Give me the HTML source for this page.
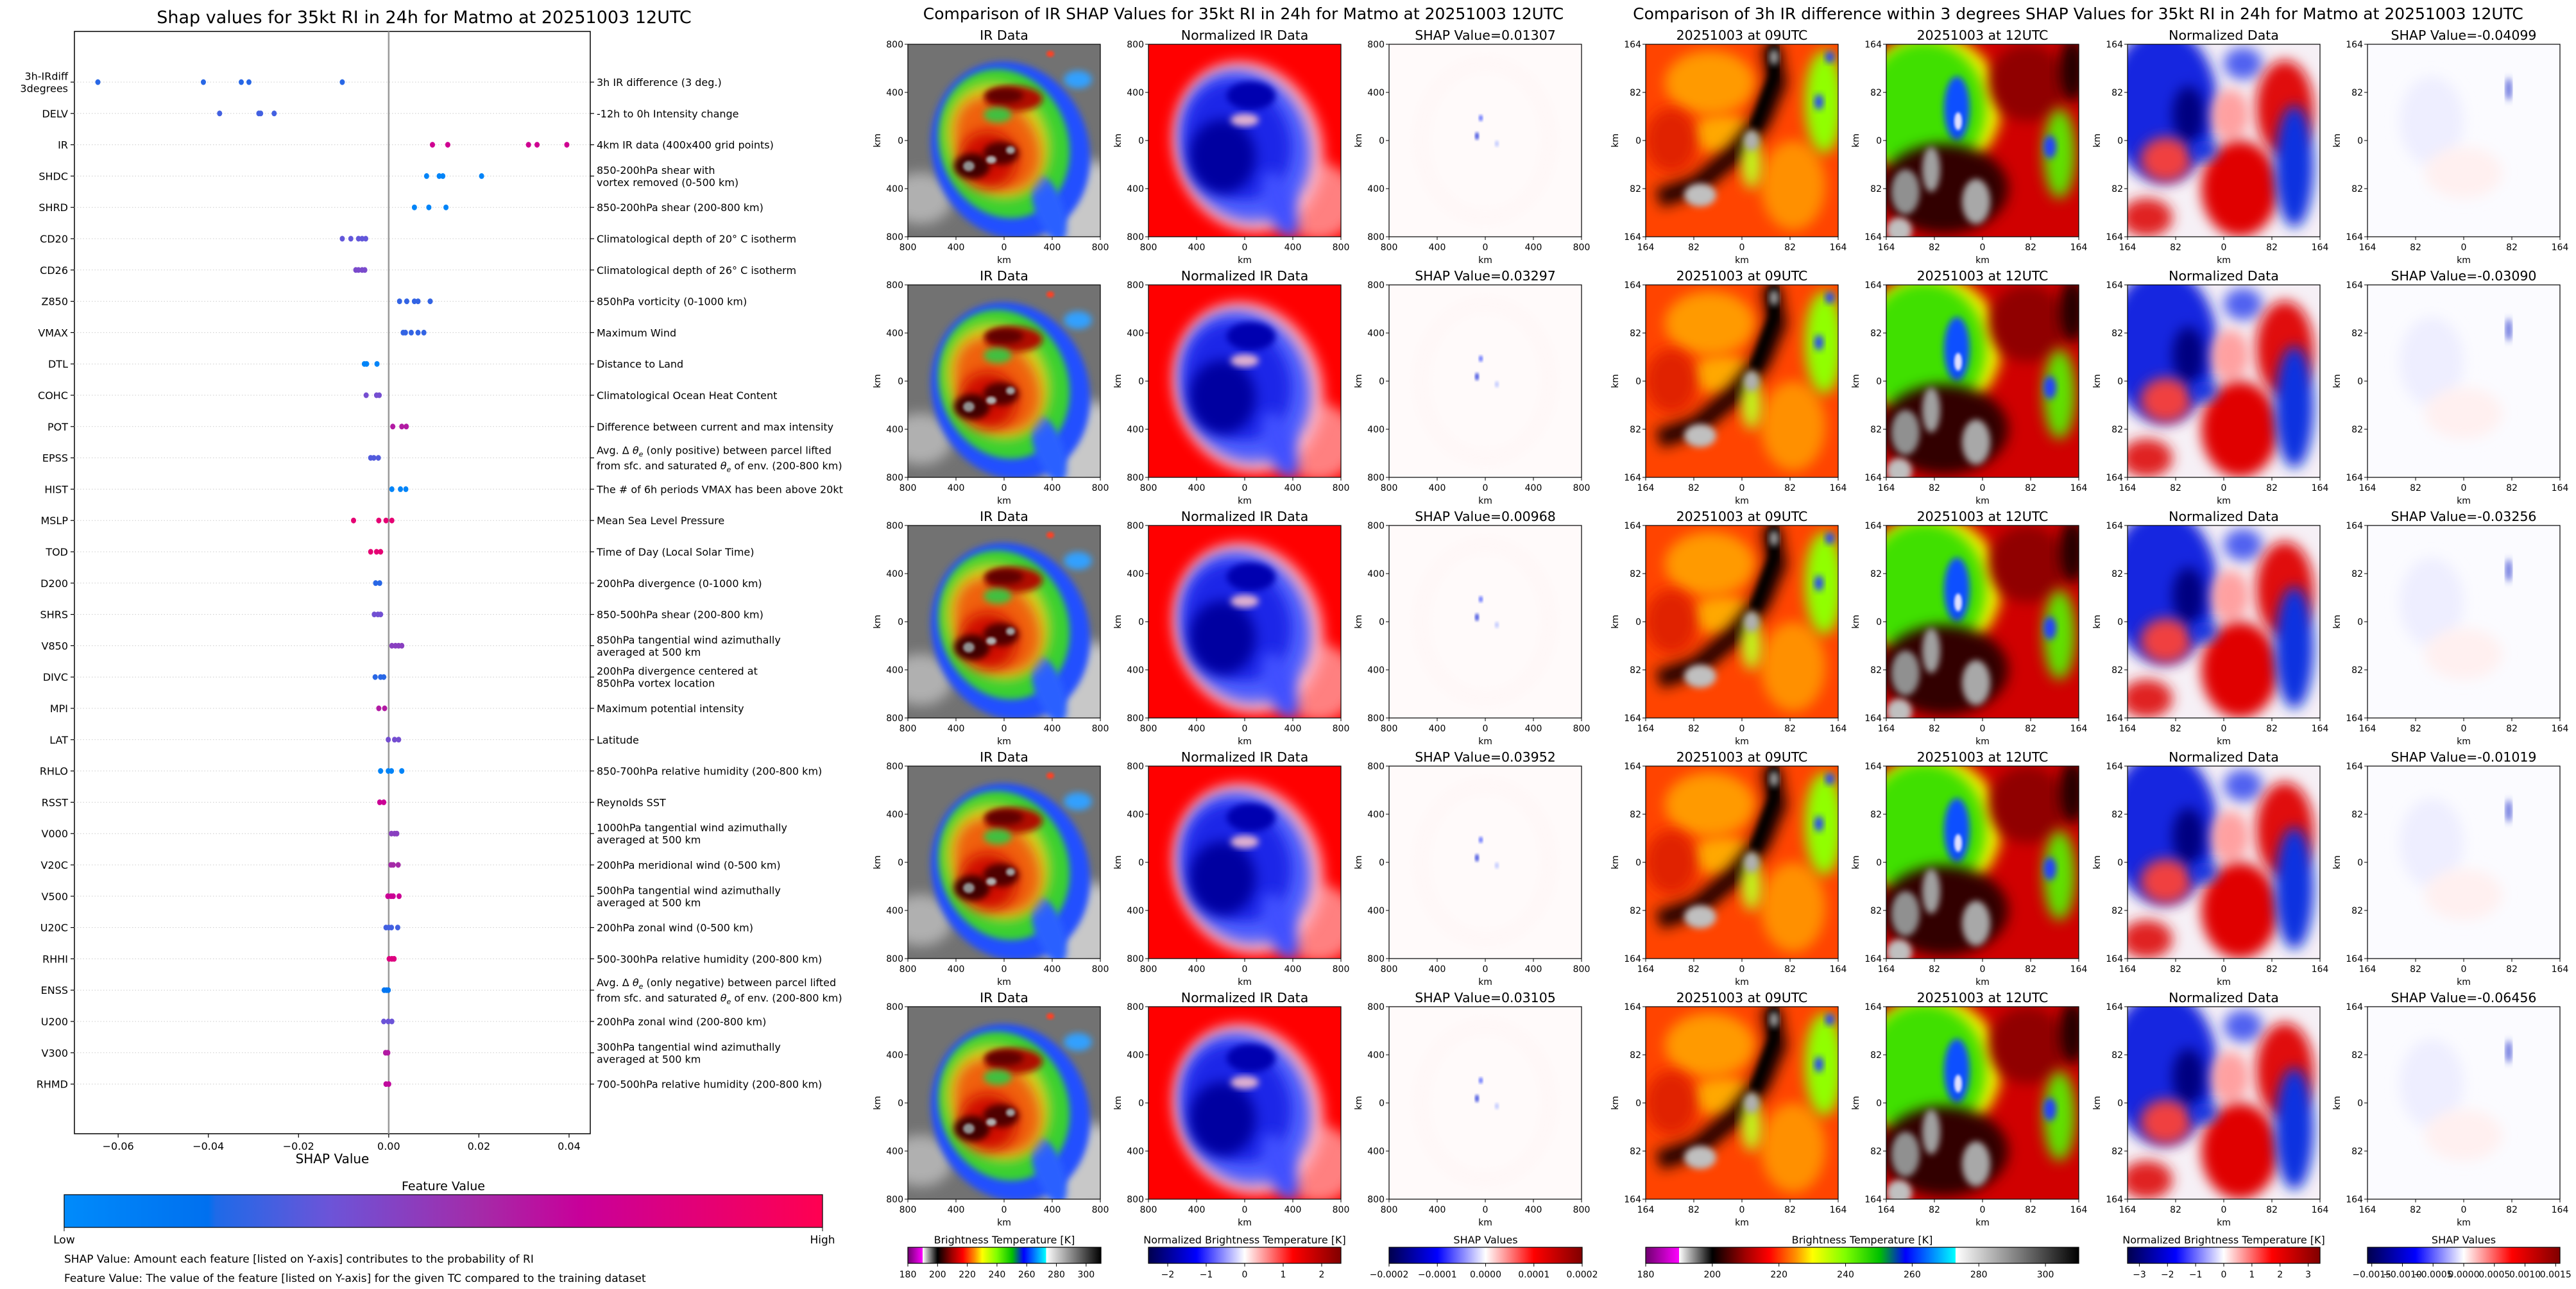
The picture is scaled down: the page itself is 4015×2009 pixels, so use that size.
<!DOCTYPE html>
<html><head><meta charset="utf-8">
<style>
html,body{margin:0;padding:0;background:#fff;}
svg{display:block;font-family:"DejaVu Sans","Liberation Sans",sans-serif;}
</style></head>
<body>
<svg id="fig" xmlns="http://www.w3.org/2000/svg" width="4015" height="2009" viewBox="0 0 4015 2009">
<defs>
<filter id="b2" x="-20%" y="-20%" width="140%" height="140%"><feGaussianBlur stdDeviation="2"/></filter>
<filter id="b5" x="-30%" y="-30%" width="160%" height="160%"><feGaussianBlur stdDeviation="5"/></filter>
<filter id="b10" x="-40%" y="-40%" width="180%" height="180%"><feGaussianBlur stdDeviation="10"/></filter>
<linearGradient id="gShap" x1="0" x2="1" y1="0" y2="0">
<stop offset="0" stop-color="#008bfb"/><stop offset="0.19" stop-color="#0070ef"/><stop offset="0.2" stop-color="#1e6ae8"/><stop offset="0.35" stop-color="#6c54d8"/><stop offset="0.55" stop-color="#a52aa8"/><stop offset="0.68" stop-color="#c8009a"/><stop offset="1" stop-color="#ff0051"/>
</linearGradient>
<linearGradient id="gIR" x1="0" x2="1" y1="0" y2="0">
<stop offset="0" stop-color="#700070"/><stop offset="0.077" stop-color="#ff00ff"/><stop offset="0.077" stop-color="#ffffff"/><stop offset="0.154" stop-color="#000000"/><stop offset="0.23" stop-color="#a00000"/><stop offset="0.285" stop-color="#ff0000"/><stop offset="0.346" stop-color="#ff9000"/><stop offset="0.385" stop-color="#ffff00"/><stop offset="0.46" stop-color="#80ff00"/><stop offset="0.54" stop-color="#00c000"/><stop offset="0.6" stop-color="#0000ff"/><stop offset="0.715" stop-color="#00ffff"/><stop offset="0.716" stop-color="#ffffff"/><stop offset="1" stop-color="#000000"/>
</linearGradient>
<linearGradient id="gSeis" x1="0" x2="1" y1="0" y2="0">
<stop offset="0" stop-color="#00004d"/><stop offset="0.25" stop-color="#0000ff"/><stop offset="0.5" stop-color="#ffffff"/><stop offset="0.75" stop-color="#ff0000"/><stop offset="1" stop-color="#800000"/>
</linearGradient>
<clipPath id="cp"><rect x="0" y="0" width="300" height="300"/></clipPath>

<symbol id="imgIR" viewBox="0 0 300 300"><g clip-path="url(#cp)">
<rect width="300" height="300" fill="#727272"/>
<ellipse cx="270" cy="250" rx="80" ry="70" fill="#c8c8c8" filter="url(#b10)"/>
<ellipse cx="20" cy="240" rx="50" ry="40" fill="#b0b0b0" filter="url(#b10)"/>
<ellipse cx="160" cy="165" rx="122" ry="140" transform="rotate(-20 160 165)" fill="#2050ff" filter="url(#b5)"/>
<ellipse cx="150" cy="155" rx="100" ry="118" transform="rotate(-20 150 155)" fill="#38d030" filter="url(#b5)"/>
<ellipse cx="220" cy="255" rx="22" ry="55" transform="rotate(-20 220 255)" fill="#2a60ff" filter="url(#b5)"/>
<ellipse cx="140" cy="150" rx="78" ry="92" transform="rotate(-25 140 150)" fill="#d8d820" filter="url(#b10)"/>
<ellipse cx="140" cy="155" rx="60" ry="80" transform="rotate(-35 140 155)" fill="#f06010" filter="url(#b10)"/>
<ellipse cx="125" cy="180" rx="45" ry="45" fill="#d01000" filter="url(#b10)"/>
<ellipse cx="165" cy="85" rx="45" ry="20" fill="#b01000" filter="url(#b5)"/>
<ellipse cx="150" cy="80" rx="30" ry="12" fill="#600000" filter="url(#b5)"/>
<ellipse cx="100" cy="190" rx="28" ry="20" fill="#400000" filter="url(#b5)"/>
<ellipse cx="145" cy="170" rx="28" ry="18" fill="#500000" filter="url(#b5)"/>
<ellipse cx="95" cy="190" rx="9" ry="8" fill="#909090" filter="url(#b2)"/>
<ellipse cx="130" cy="180" rx="8" ry="6" fill="#b0b0b0" filter="url(#b2)"/>
<ellipse cx="160" cy="165" rx="7" ry="6" fill="#a0a0a0" filter="url(#b2)"/>
<ellipse cx="140" cy="110" rx="22" ry="12" fill="#40c040" filter="url(#b5)"/>
<ellipse cx="265" cy="55" rx="22" ry="14" fill="#30a0ff" filter="url(#b5)"/>
<ellipse cx="222" cy="15" rx="6" ry="5" fill="#ff4020" filter="url(#b2)"/>
</g></symbol>

<symbol id="imgNorm" viewBox="0 0 300 300"><g clip-path="url(#cp)">
<rect width="300" height="300" fill="#ff0000"/>
<ellipse cx="265" cy="245" rx="60" ry="60" fill="#ff8080" filter="url(#b10)"/>
<ellipse cx="155" cy="160" rx="115" ry="135" transform="rotate(-20 155 160)" fill="#ffb0c0" filter="url(#b10)"/>
<ellipse cx="150" cy="158" rx="100" ry="120" transform="rotate(-20 150 158)" fill="#5060ff" filter="url(#b10)"/>
<ellipse cx="140" cy="150" rx="80" ry="95" transform="rotate(-25 140 150)" fill="#1a28e8" filter="url(#b10)"/>
<ellipse cx="115" cy="175" rx="52" ry="58" fill="#0000a0" filter="url(#b10)"/>
<ellipse cx="160" cy="80" rx="38" ry="22" fill="#0000b0" filter="url(#b5)"/>
<ellipse cx="150" cy="118" rx="22" ry="10" fill="#e0b0d0" filter="url(#b5)"/>
<ellipse cx="205" cy="250" rx="22" ry="55" transform="rotate(-20 205 250)" fill="#4050ff" filter="url(#b10)"/>
</g></symbol>

<symbol id="imgShapIR" viewBox="0 0 300 300"><g clip-path="url(#cp)">
<rect width="300" height="300" fill="#fffafa"/>
<ellipse cx="150" cy="150" rx="100" ry="120" fill="none" stroke="#fff0f0" stroke-width="6" filter="url(#b10)"/>
<ellipse cx="143" cy="115" rx="3" ry="5" fill="#6070ff" filter="url(#b2)"/>
<ellipse cx="137" cy="143" rx="3" ry="6" fill="#4050e0" filter="url(#b2)"/>
<ellipse cx="168" cy="155" rx="3" ry="5" fill="#c0c8ff" filter="url(#b2)"/>
</g></symbol>

<symbol id="img09" viewBox="0 0 300 300"><g clip-path="url(#cp)">
<rect width="300" height="300" fill="#ff4400"/>
<ellipse cx="100" cy="60" rx="70" ry="50" fill="#ff9a00" filter="url(#b10)"/>
<ellipse cx="120" cy="140" rx="50" ry="30" fill="#ffa800" filter="url(#b10)"/>
<ellipse cx="230" cy="220" rx="50" ry="70" fill="#ff9000" filter="url(#b10)"/>
<ellipse cx="40" cy="150" rx="40" ry="50" fill="#e02000" filter="url(#b10)"/>
<path d="M195 0 L205 60 L180 120 L140 170 L80 220 L20 240" stroke="#200000" stroke-width="30" fill="none" filter="url(#b10)"/>
<path d="M200 0 L200 50 L170 130" stroke="#000" stroke-width="16" fill="none" filter="url(#b5)"/>
<ellipse cx="278" cy="90" rx="30" ry="80" fill="#90ff00" filter="url(#b10)"/>
<ellipse cx="270" cy="90" rx="7" ry="12" fill="#2040ff" filter="url(#b5)"/>
<ellipse cx="287" cy="20" rx="7" ry="9" fill="#2040ff" filter="url(#b5)"/>
<ellipse cx="165" cy="185" rx="15" ry="40" fill="#c0ff20" filter="url(#b10)"/>
<ellipse cx="165" cy="150" rx="12" ry="16" fill="#b0b0b0" filter="url(#b5)"/>
<ellipse cx="200" cy="20" rx="7" ry="12" fill="#a0a0a0" filter="url(#b5)"/>
<ellipse cx="85" cy="235" rx="25" ry="18" fill="#c0c0c0" filter="url(#b5)"/>
</g></symbol>

<symbol id="img12" viewBox="0 0 300 300"><g clip-path="url(#cp)">
<rect width="300" height="300" fill="#d00000"/>
<ellipse cx="70" cy="95" rx="110" ry="110" fill="#f0f000" filter="url(#b10)"/>
<ellipse cx="60" cy="100" rx="95" ry="105" fill="#40e000" filter="url(#b10)"/>
<ellipse cx="110" cy="100" rx="20" ry="50" fill="#1050ff" filter="url(#b5)"/>
<ellipse cx="112" cy="120" rx="6" ry="14" fill="#e0e0ff" filter="url(#b2)"/>
<ellipse cx="220" cy="60" rx="60" ry="60" fill="#900000" filter="url(#b10)"/>
<ellipse cx="290" cy="40" rx="20" ry="50" fill="#200000" filter="url(#b10)"/>
<ellipse cx="270" cy="170" rx="25" ry="70" fill="#60e000" filter="url(#b10)"/>
<ellipse cx="255" cy="160" rx="10" ry="18" fill="#2040ff" filter="url(#b5)"/>
<ellipse cx="90" cy="225" rx="100" ry="70" fill="#300000" filter="url(#b10)"/>
<ellipse cx="30" cy="230" rx="22" ry="35" fill="#909090" filter="url(#b5)"/>
<ellipse cx="70" cy="195" rx="14" ry="35" fill="#a0a0a0" filter="url(#b5)"/>
<ellipse cx="140" cy="245" rx="22" ry="35" fill="#a8a8a8" filter="url(#b5)"/>
<ellipse cx="20" cy="290" rx="20" ry="20" fill="#c0c0c0" filter="url(#b5)"/>
</g></symbol>

<symbol id="imgN3" viewBox="0 0 300 300"><g clip-path="url(#cp)">
<rect width="300" height="300" fill="#f6f0f6"/>
<ellipse cx="55" cy="95" rx="85" ry="120" fill="#1428e0" filter="url(#b10)"/>
<ellipse cx="95" cy="110" rx="25" ry="45" fill="#000080" filter="url(#b10)"/>
<ellipse cx="180" cy="30" rx="30" ry="25" fill="#5060f0" filter="url(#b10)"/>
<ellipse cx="245" cy="100" rx="45" ry="75" fill="#e01010" filter="url(#b10)"/>
<ellipse cx="160" cy="110" rx="30" ry="40" fill="#ffa0a0" filter="url(#b10)"/>
<ellipse cx="175" cy="225" rx="60" ry="75" fill="#e00000" filter="url(#b10)"/>
<ellipse cx="60" cy="180" rx="40" ry="35" fill="#f04040" filter="url(#b10)"/>
<ellipse cx="30" cy="270" rx="40" ry="30" fill="#e02020" filter="url(#b10)"/>
<ellipse cx="260" cy="190" rx="30" ry="95" fill="#1030e0" filter="url(#b10)"/>
<ellipse cx="120" cy="165" rx="20" ry="15" fill="#1030e0" filter="url(#b10)"/>
</g></symbol>

<symbol id="imgShap3" viewBox="0 0 300 300"><g clip-path="url(#cp)">
<rect width="300" height="300" fill="#fbfbff"/>
<ellipse cx="100" cy="120" rx="50" ry="70" fill="#eeeeff" filter="url(#b10)"/>
<ellipse cx="150" cy="200" rx="60" ry="40" fill="#fff0f0" filter="url(#b10)"/>
<ellipse cx="220" cy="70" rx="4" ry="18" fill="#3040d0" filter="url(#b5)"/>
</g></symbol>
</defs>
<g id="left"></g>
<g id="right"></g>
</svg>
<script>
const features = ["3h-IRdiff\n3degrees","DELV","IR","SHDC","SHRD","CD20","CD26","Z850","VMAX","DTL","COHC","POT","EPSS","HIST","MSLP","TOD","D200","SHRS","V850","DIVC","MPI","LAT","RHLO","RSST","V000","V20C","V500","U20C","RHHI","ENSS","U200","V300","RHMD"];
const shapValues = [
[-0.0645,-0.0411,-0.0327,-0.0310,-0.0103],
[-0.0375,-0.0288,-0.0284,-0.0254],
[0.0097,0.0131,0.0310,0.0329,0.0395],
[0.0084,0.0112,0.0120,0.0206],
[0.0057,0.0089,0.0127],
[-0.0103,-0.0084,-0.0067,-0.0059,-0.0051],
[-0.0073,-0.0067,-0.0059,-0.0053],
[0.0024,0.0040,0.0057,0.0065,0.0092],
[0.0032,0.0037,0.0050,0.0065,0.0078],
[-0.0054,-0.0049,-0.0026],
[-0.0050,-0.0027,-0.0021],
[0.0009,0.0029,0.0039],
[-0.0040,-0.0033,-0.0023],
[0.0007,0.0026,0.0038],
[-0.0078,-0.0022,-0.0006,0.0007],
[-0.0040,-0.0027,-0.0018],
[-0.0029,-0.0020],
[-0.0032,-0.0024,-0.0018],
[0.0007,0.0015,0.0022,0.0029],
[-0.0030,-0.0018,-0.0011],
[-0.0022,-0.0009],
[-0.0001,0.0013,0.0022],
[-0.0018,-0.0001,0.0006,0.0029],
[-0.0020,-0.0011],
[0.0006,0.0013,0.0018],
[0.0005,0.0010,0.0021],
[-0.0002,0.0005,0.0010,0.0023],
[-0.0006,0.0000,0.0006,0.0020],
[0.0001,0.0007,0.0012],
[-0.0010,-0.0005,-0.0001],
[-0.0011,-0.0001,0.0007],
[-0.0007,-0.0002],
[-0.0006,0.0000]];
const featureValues = [0.22,0.27,0.72,0.05,0.05,0.33,0.4,0.24,0.24,0.05,0.38,0.6,0.3,0.05,0.85,0.85,0.22,0.37,0.45,0.22,0.6,0.38,0.05,0.7,0.45,0.55,0.7,0.27,0.8,0.15,0.35,0.6,0.65];
const descriptions = ["3h IR difference (3 deg.)","-12h to 0h Intensity change","4km IR data (400x400 grid points)","850-200hPa shear with\nvortex removed (0-500 km)","850-200hPa shear (200-800 km)","Climatological depth of 20° C isotherm","Climatological depth of 26° C isotherm","850hPa vorticity (0-1000 km)","Maximum Wind","Distance to Land","Climatological Ocean Heat Content","Difference between current and max intensity","EPSS","The # of 6h periods VMAX has been above 20kt","Mean Sea Level Pressure","Time of Day (Local Solar Time)","200hPa divergence (0-1000 km)","850-500hPa shear (200-800 km)","850hPa tangential wind azimuthally\naveraged at 500 km","200hPa divergence centered at\n850hPa vortex location","Maximum potential intensity","Latitude","850-700hPa relative humidity (200-800 km)","Reynolds SST","1000hPa tangential wind azimuthally\naveraged at 500 km","200hPa meridional wind (0-500 km)","500hPa tangential wind azimuthally\naveraged at 500 km","200hPa zonal wind (0-500 km)","500-300hPa relative humidity (200-800 km)","ENSS","200hPa zonal wind (200-800 km)","300hPa tangential wind azimuthally\naveraged at 500 km","700-500hPa relative humidity (200-800 km)"];
const xTicks = [-0.06,-0.04,-0.02,0.00,0.02,0.04];
const xTickLabels = ["\u22120.06","\u22120.04","\u22120.02","0.00","0.02","0.04"];
const irShap = ["0.01307","0.03297","0.00968","0.03952","0.03105"];
const diffShap = ["-0.04099","-0.03090","-0.03256","-0.01019","-0.06456"];

const NS="http://www.w3.org/2000/svg";
function mk(tag,parent,attrs){const e=document.createElementNS(NS,tag);for(const k in attrs)e.setAttribute(k,attrs[k]);parent.appendChild(e);return e;}
function txt(parent,x,y,s,size,anchor,attrs){const e=mk('text',parent,Object.assign({x:x,y:y,'font-size':size,'text-anchor':anchor||'start',fill:'#000'},attrs||{}));e.textContent=s;return e;}

const cmStops=[[0,[0,139,251]],[0.19,[0,112,239]],[0.2,[30,106,232]],[0.35,[108,84,216]],[0.55,[165,42,168]],[0.68,[200,0,154]],[1,[255,0,81]]];
function cmap(t){for(let i=1;i<cmStops.length;i++){if(t<=cmStops[i][0]){const a=cmStops[i-1],b=cmStops[i];const f=(t-a[0])/(b[0]-a[0]);return 'rgb('+a[1].map((v,j)=>Math.round(v+(b[1][j]-v)*f)).join(',')+')';}}return 'rgb(255,0,81)';}

const L=document.getElementById('left');
const ax={x0:116,x1:920,y0:49,y1:1767};
const xmin=-0.0697,xmax=0.0447;
function xs(v){return ax.x0+(v-xmin)/(xmax-xmin)*(ax.x1-ax.x0);}
const rowTop=128,rowStep=48.8;
function ys(i){return rowTop+i*rowStep;}

const title=txt(L,661,36,'Shap values for 35kt RI in 24h for Matmo at 20251003 12UTC',27,'middle');



const frame=mk('rect',L,{x:ax.x0,y:ax.y0,width:ax.x1-ax.x0,height:ax.y1-ax.y0,fill:'none',stroke:'#000','stroke-width':1.5});



features.forEach((f,i)=>{
  const y=ys(i);
  const g=mk('line',L,{x1:ax.x0,x2:ax.x1,y1:y,y2:y,stroke:'#ccc','stroke-width':1,'stroke-dasharray':'1.5 3'});
  
  
  mk('line',L,{x1:ax.x0-6,x2:ax.x0,y1:y,y2:y,stroke:'#000','stroke-width':1.2});
  mk('line',L,{x1:ax.x1,x2:ax.x1+6,y1:y,y2:y,stroke:'#000','stroke-width':1.2});
  const parts=f.split('\n');
  const lab=txt(L,106,0,'',16,'end');
  
  
  parts.forEach((p,k)=>{const t=mk('tspan',lab,{x:106,y:y+6+(k-(parts.length-1)/2)*19});t.textContent=p;});
});

descriptions.forEach((d,i)=>{
  const y=ys(i);
  const lab=txt(L,930,0,'',16,'start');
  
  
  if(d==='EPSS'||d==='ENSS'){
    const w=d==='EPSS'?'positive':'negative';
    const t1=mk('tspan',lab,{x:930,y:y-6});t1.textContent='Avg. \u0394 ';
    const th=mk('tspan',lab,{'font-style':'italic'});th.textContent='\u03b8';
    const s1=mk('tspan',lab,{'font-size':11,dy:4,'font-style':'italic'});s1.textContent='e';
    const r1=mk('tspan',lab,{dy:-4});r1.textContent=' (only '+w+') between parcel lifted';
    const t2=mk('tspan',lab,{x:930,y:y+18});t2.textContent='from sfc. and saturated ';
    const th2=mk('tspan',lab,{'font-style':'italic'});th2.textContent='\u03b8';
    const s2=mk('tspan',lab,{'font-size':11,dy:4,'font-style':'italic'});s2.textContent='e';
    const r2=mk('tspan',lab,{dy:-4});r2.textContent=' of env. (200-800 km)';
    return;
  }
  const lines=d.split('\n');
  lines.forEach((p,k)=>{const t=mk('tspan',lab,{x:930,y:y+6+(k-(lines.length-1)/2)*19});t.textContent=p;});
});

const zl=mk('line',L,{x1:xs(0),x2:xs(0),y1:ax.y0,y2:ax.y1,stroke:'#999','stroke-width':2.5});



shapValues.forEach((arr,i)=>{
  arr.forEach(v=>{
    const c=mk('ellipse',L,{cx:xs(v),cy:ys(i),rx:4,ry:4.5,fill:cmap(featureValues[i])});
    
    
  });
});

xTicks.forEach((v,k)=>{
  mk('line',L,{x1:xs(v),x2:xs(v),y1:ax.y1,y2:ax.y1+6,stroke:'#000','stroke-width':1.2});
  const t=txt(L,xs(v),ax.y1+25,xTickLabels[k],16,'middle');
  
  
});
const xl=txt(L,518,1813,'SHAP Value',20,'middle');



const fvt=txt(L,691,1855,'Feature Value',19,'middle');


const fcb=mk('rect',L,{x:100,y:1862,width:1182,height:51,fill:'url(#gShap)',stroke:'#000','stroke-width':1.2});


mk('line',L,{x1:100,x2:100,y1:1913,y2:1919,stroke:'#000'});
mk('line',L,{x1:1282,x2:1282,y1:1913,y2:1919,stroke:'#000'});
const lo=txt(L,100,1938,'Low',17,'middle');


const hi=txt(L,1282,1938,'High',17,'middle');


const n1=txt(L,100,1968,'SHAP Value: Amount each feature [listed on Y-axis] contributes to the probability of RI',17,'start');


const n2=txt(L,100,1998,'Feature Value: The value of the feature [listed on Y-axis] for the given TC compared to the training dataset',17,'start');



const R=document.getElementById('right');
const t1=txt(R,1938,30,'Comparison of IR SHAP Values for 35kt RI in 24h for Matmo at 20251003 12UTC',25,'middle');


const t2=txt(R,3239,30,'Comparison of 3h IR difference within 3 degrees SHAP Values for 35kt RI in 24h for Matmo at 20251003 12UTC',25,'middle');



const colX=[1415,1790,2165,2565,2940,3316,3690];
const colImg=['imgIR','imgNorm','imgShapIR','img09','img12','imgN3','imgShap3'];
const colNames=['ir-data-panel','normalized-ir-panel','ir-shap-panel','ir-09utc-panel','ir-12utc-panel','normalized-diff-panel','diff-shap-panel'];
const irTicks=['800','400','0','400','800'];
const dTicks=['164','82','0','82','164'];
const PW=300,PH=300;
for(let r=0;r<5;r++){
  const top=69+r*375;
  for(let c=0;c<7;c++){
    const x=colX[c];
    const g=mk('g',R,{});
    
    
    mk('use',g,{href:'#'+colImg[c],x:x,y:top,width:PW,height:PH});
    mk('rect',g,{x:x,y:top,width:PW,height:PH,fill:'none',stroke:'#000','stroke-width':1.2});
    let tt;
    if(c===0)tt='IR Data';else if(c===1)tt='Normalized IR Data';else if(c===2)tt='SHAP Value='+irShap[r];
    else if(c===3)tt='20251003 at 09UTC';else if(c===4)tt='20251003 at 12UTC';else if(c===5)tt='Normalized Data';else tt='SHAP Value='+diffShap[r];
    const ti=txt(g,x+PW/2,top-7,tt,20.5,'middle');
    
    
    const ticks=c<3?irTicks:dTicks;
    ticks.forEach((s,k)=>{
      const px=x+k*PW/4, py=top+k*PH/4;
      mk('line',g,{x1:px,x2:px,y1:top+PH,y2:top+PH+5,stroke:'#000'});
      mk('line',g,{x1:x-5,x2:x,y1:py,y2:py,stroke:'#000'});
      const a=txt(g,px,top+PH+21,s,14,'middle');
      
      
      const b=txt(g,x-7,py+5,s,14,'end');
      
      
    });
    const xk=txt(g,x+PW/2,top+PH+41,'km',14,'middle');
    
    
    const yk=txt(g,0,0,'km',14,'middle',{transform:'translate('+(x-43)+','+(top+PH/2)+') rotate(-90)'});
    
    
  }
}

const cbs=[
 {x:1415,w:301,grad:'gIR',title:'Brightness Temperature [K]',min:180,max:310,ticks:[180,200,220,240,260,280,300],labels:['180','200','220','240','260','280','300'],name:'ir-colorbar'},
 {x:1790,w:300,grad:'gSeis',title:'Normalized Brightness Temperature [K]',min:-2.5,max:2.5,ticks:[-2,-1,0,1,2],labels:['\u22122','\u22121','0','1','2'],name:'normalized-ir-colorbar'},
 {x:2165,w:301,grad:'gSeis',title:'SHAP Values',min:-0.0002,max:0.0002,ticks:[-0.0002,-0.0001,0,0.0001,0.0002],labels:['\u22120.0002','\u22120.0001','0.0000','0.0001','0.0002'],name:'ir-shap-colorbar'},
 {x:2565,w:675,grad:'gIR',title:'Brightness Temperature [K]',min:180,max:310,ticks:[180,200,220,240,260,280,300],labels:['180','200','220','240','260','280','300'],name:'diff-ir-colorbar'},
 {x:3316,w:300,grad:'gSeis',title:'Normalized Brightness Temperature [K]',min:-3.42,max:3.42,ticks:[-3,-2,-1,0,1,2,3],labels:['\u22123','\u22122','\u22121','0','1','2','3'],name:'normalized-diff-colorbar'},
 {x:3690,w:300,grad:'gSeis',title:'SHAP Values',min:-0.00157,max:0.00157,ticks:[-0.0015,-0.001,-0.0005,0,0.0005,0.001,0.0015],labels:['\u22120.0015','\u22120.0010','\u22120.0005','0.0000','0.0005','0.0010','0.0015'],name:'diff-shap-colorbar'}
];
cbs.forEach(cb=>{
  const g=mk('g',R,{});
  
  
  mk('rect',g,{x:cb.x,y:1944,width:cb.w,height:25,fill:'url(#'+cb.grad+')',stroke:'#000','stroke-width':1.2});
  const tt=txt(g,cb.x+cb.w/2,1938,cb.title,16,'middle');
  
  
  cb.ticks.forEach((v,k)=>{
    const px=cb.x+(v-cb.min)/(cb.max-cb.min)*cb.w;
    mk('line',g,{x1:px,x2:px,y1:1969,y2:1974,stroke:'#000'});
    const l=txt(g,px,1991,cb.labels[k],14,'middle');
    
    
  });
});
</script>
</body></html>
